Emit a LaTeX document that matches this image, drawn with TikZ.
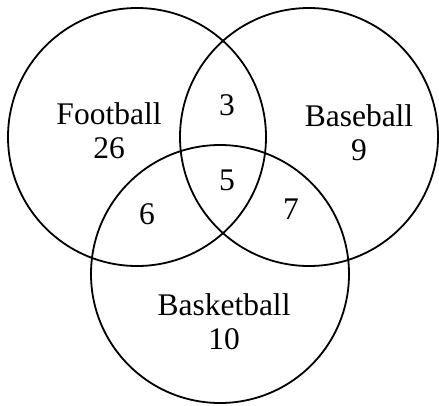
\documentclass[tikz,border=0pt]{standalone}
\usepackage{fontspec}
\setmainfont{Liberation Serif}
\usepackage{tikz}
\usetikzlibrary{positioning}

\begin{document}
\begin{tikzpicture}[
    x=1pt, y=-1pt,
    font=\fontsize{31.5}{34}\selectfont,
    sport/.style={circle, draw, line width=1.8pt, inner sep=0pt, minimum size=258pt},
    lbl/.style={align=center, inner sep=0pt},
]
\useasboundingbox (0,0) rectangle (439,405);
% the three sets
\node[sport] (football) at (137,137) {};
\node[sport] (baseball) at (309,137) {};
\node[sport] (basketball) at (220,274) {};

% labels and counts
\node[lbl] (fbl) at (109,131) {Football\\26};
\node[lbl] (bsl) at (359,133) {Baseball\\9};
\node[lbl] (bkl) at (224,322) {Basketball\\10};
\node[lbl] (fb) at (227,105) {3};
\node[lbl] (all) at (227,180) {5};
\node[lbl] (fk) at (147,214) {6};
\node[lbl] (bk) at (291,209) {7};
\end{tikzpicture}
\end{document}
